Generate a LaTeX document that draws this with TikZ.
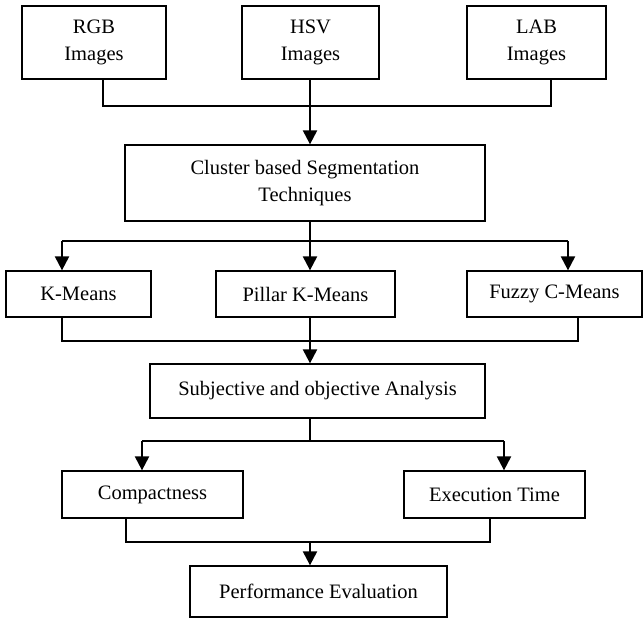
\documentclass[tikz,border=0pt]{standalone}
\usepackage{fontspec}
\setmainfont{Liberation Serif}
\usetikzlibrary{arrows.meta}
\tikzset{
  box/.style={draw=black, line width=1.3pt, fill=white, align=center, inner sep=0pt,
    font=\fontsize{20.5}{27}\selectfont},
  conn/.style={line width=1.3pt},
  hconn/.style={line width=1.6pt},
  arr/.style={line width=2.2pt, -{Triangle[width=14pt,length=14pt]}}
}
\begin{document}
\begin{tikzpicture}[x=1pt,y=-1pt]
\useasboundingbox (0,0) rectangle (644,619);
% boxes
\node[box, minimum width=144pt, minimum height=73pt] (rgb) at (94,42.5) {RGB\\Images};
\node[box, minimum width=137pt, minimum height=73pt] (hsv) at (310.5,42.5) {HSV\\Images};
\node[box, minimum width=139pt, minimum height=73pt] (lab) at (536.5,42.5) {LAB\\Images};
\node[box, minimum width=360pt, minimum height=76pt] (cluster) at (305,183) {Cluster based Segmentation\\Techniques};
\node[box, minimum width=145pt, minimum height=46pt] (kmeans) at (78.5,294) {K-Means};
\node[box, minimum width=179pt, minimum height=46pt] (pillar) at (305.5,294) {Pillar K-Means};
\node[box, minimum width=175pt, minimum height=46pt] (fuzzy) at (554.5,294) {Fuzzy C-Means};
\node[box, minimum width=335pt, minimum height=54pt] (subj) at (317.5,391) {Subjective and objective Analysis};
\node[box, minimum width=181pt, minimum height=47pt] (compact) at (152.5,494.5) {Compactness};
\node[box, minimum width=181pt, minimum height=47pt] (exec) at (494.5,494.5) {Execution Time};
\node[box, minimum width=257pt, minimum height=51pt] (perf) at (318.5,591.5) {Performance Evaluation};
% junction coordinates
\coordinate (r1) at (103,106);
\coordinate (j1) at (310,106);
\coordinate (l1) at (551,106);
\coordinate (k2) at (62,241);
\coordinate (j2) at (310,241);
\coordinate (f2) at (568,241);
\coordinate (k3) at (62,341);
\coordinate (j3) at (310,341);
\coordinate (f3) at (578,341);
\coordinate (c4) at (142,441);
\coordinate (j4) at (310,441);
\coordinate (e4) at (504,441);
\coordinate (c5) at (126,542);
\coordinate (j5) at (310,542);
\coordinate (e5) at (490,542);
% level 1
\draw[conn] (r1 |- rgb.south) -- (r1) -- (l1) -- (l1 |- lab.south);
\draw[conn] (j1 |- hsv.south) -- (j1);
\draw[arr] (j1) -- (j1 |- cluster.north);
% level 2
\draw[line width=2.2pt] (j2 |- cluster.south) -- (j2);
\draw[hconn] (k2) -- (f2);
\draw[arr] (k2) -- (k2 |- kmeans.north);
\draw[arr] (j2) -- (j2 |- pillar.north);
\draw[arr] (f2) -- (f2 |- fuzzy.north);
% level 3
\draw[hconn] (k3 |- kmeans.south) -- (k3) -- (f3) -- (f3 |- fuzzy.south);
\draw[arr] (j3 |- pillar.south) -- (j3 |- subj.north);
% level 4
\draw[conn] (j4 |- subj.south) -- (j4);
\draw[hconn] (c4) -- (e4);
\draw[arr] (c4) -- (c4 |- compact.north);
\draw[arr] (e4) -- (e4 |- exec.north);
% level 5
\draw[hconn] (c5 |- compact.south) -- (c5) -- (e5) -- (e5 |- exec.south);
\draw[arr] (j5) -- (j5 |- perf.north);
\end{tikzpicture}
\end{document}
